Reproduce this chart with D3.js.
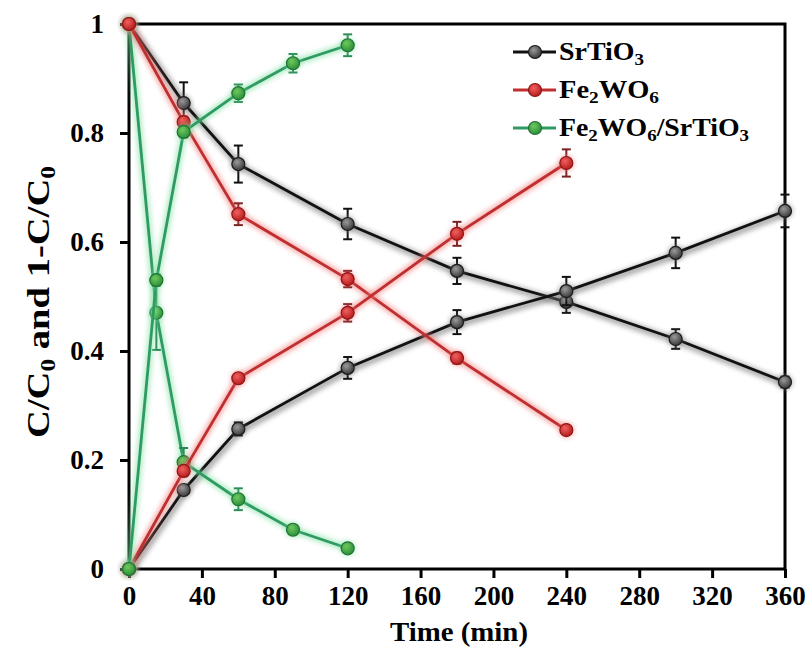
<!DOCTYPE html>
<html>
<head>
<meta charset="utf-8">
<script src="https://cdn.jsdelivr.net/npm/d3@7"></script>
<style>
  body { margin: 0; background: #fff; }
  text { font-family: "Liberation Serif", "Times New Roman", serif; font-weight: bold; }
</style>
</head>
<body>
<svg id="chart" width="812" height="651"></svg>
<script>
"use strict";

// time points for each material (min)
const srTimes = [0, 30, 60, 120, 180, 240, 300, 360];
const fwTimes = [0, 30, 60, 120, 180, 240];
const compTimes = [0, 15, 30, 60, 90, 120];

// C/C0 (decay) and 1-C/C0 (removal), with error bars
const srDecay = [1, 0.855, 0.743, 0.633, 0.547, 0.490, 0.422, 0.343];
const srDecayErr = [0, 0.038, 0.034, 0.028, 0.024, 0.02, 0.018, 0.01];
const srRemoval = [0, 0.145, 0.257, 0.369, 0.453, 0.510, 0.580, 0.657];
const srRemovalErr = [0, 0.006, 0.012, 0.02, 0.022, 0.026, 0.028, 0.03];

const fwDecay = [1, 0.82, 0.651, 0.532, 0.387, 0.255];
const fwDecayErr = [0, 0.01, 0.02, 0.015, 0.01, 0];
const fwRemoval = [0, 0.18, 0.35, 0.47, 0.615, 0.745];
const fwRemovalErr = [0, 0.008, 0.008, 0.016, 0.022, 0.025];

const compDecay = [1, 0.47, 0.196, 0.128, 0.072, 0.038];
const compDecayErr = [0, 0.068, 0.026, 0.02, 0.008, 0];
const compRemoval = [0, 0.53, 0.802, 0.873, 0.928, 0.961];
const compRemovalErr = [0, 0.01, 0.01, 0.016, 0.017, 0.02];

const xTicks = [0, 40, 80, 120, 160, 200, 240, 280, 320, 360];
const yTicks = [0, 0.2, 0.4, 0.6, 0.8, 1];

const svg = d3.select("#chart");
const x = d3.scaleLinear().domain([0, 360]).range([129, 785]);
const y = d3.scaleLinear().domain([0, 1]).range([569, 24]);

// colour sets: line, glow, marker light/dark
const styles = {
  black: { line: "#111", glow: "#777", hi: "#9a9a9a", lo: "#3a3a3a", edge: "#1a1a1a", bar: "#111" },
  red: { line: "#bf2f30", glow: "#f27a7a", hi: "#f06060", lo: "#b81c1c", edge: "#8e1515", bar: "#7a2020" },
  green: { line: "#2f9a62", glow: "#7ee0a0", hi: "#6fc85e", lo: "#2a9038", edge: "#1f7034", bar: "#2a8a55" }
};

const defs = svg.append("defs");
defs.append("filter").attr("id", "glow").attr("x", "-20%").attr("y", "-20%")
  .attr("width", "140%").attr("height", "140%")
  .append("feGaussianBlur").attr("stdDeviation", 2.5);

Object.keys(styles).forEach(function (k) {
  const s = styles[k];
  const g = defs.append("radialGradient").attr("id", "ball-" + k)
    .attr("cx", "40%").attr("cy", "35%").attr("r", "65%");
  g.append("stop").attr("offset", "0%").attr("stop-color", s.hi);
  g.append("stop").attr("offset", "100%").attr("stop-color", s.lo);
});

// frame
svg.append("rect").attr("x", 129).attr("y", 24).attr("width", 656).attr("height", 545)
  .attr("fill", "none").attr("stroke", "#000").attr("stroke-width", 3);

// axes
const xAxis = d3.axisBottom(x).tickValues(xTicks).tickSize(9).tickPadding(8).tickFormat(d3.format("d"));
const yAxis = d3.axisLeft(y).tickValues(yTicks).tickSize(9).tickPadding(16)
  .tickFormat(d => (d === 0 || d === 1) ? String(d) : d3.format(".1f")(d));

const gx = svg.append("g").attr("transform", "translate(0,569)").call(xAxis);
const gy = svg.append("g").attr("transform", "translate(129,0)").call(yAxis);
[gx, gy].forEach(function (g) {
  g.select(".domain").remove();
  g.selectAll(".tick line").attr("stroke", "#000").attr("stroke-width", 3);
  g.selectAll(".tick text").attr("fill", "#000").style("font-size", "27px")
    .style("font-family", "'Liberation Serif', serif").style("font-weight", "bold");
});

function drawCurve(times, vals, errs, key) {
  const s = styles[key];
  const pts = times.map((t, i) => ({ t: t, v: vals[i], e: errs[i] }));
  const line = d3.line().x(d => x(d.t)).y(d => y(d.v));
  const g = svg.append("g");

  g.append("path").datum(pts).attr("d", line).attr("fill", "none")
    .attr("stroke", s.glow).attr("stroke-width", 7).attr("opacity", 0.6)
    .attr("filter", "url(#glow)")
    .attr("transform", key === "black" ? "translate(1.5,2)" : null);
  g.append("path").datum(pts).attr("d", line).attr("fill", "none")
    .attr("stroke", s.line).attr("stroke-width", 2.8);

  const bars = g.selectAll(".err").data(pts.filter(d => d.e > 0)).join("g");
  bars.append("line").attr("x1", d => x(d.t)).attr("x2", d => x(d.t))
    .attr("y1", d => y(d.v - d.e)).attr("y2", d => y(d.v + d.e))
    .attr("stroke", s.bar).attr("stroke-width", 2);
  [-1, 1].forEach(function (sign) {
    bars.append("line").attr("x1", d => x(d.t) - 4.5).attr("x2", d => x(d.t) + 4.5)
      .attr("y1", d => y(d.v + sign * d.e)).attr("y2", d => y(d.v + sign * d.e))
      .attr("stroke", s.bar).attr("stroke-width", 2);
  });

  g.selectAll(".glowdot").data(pts).join("circle")
    .attr("cx", d => x(d.t)).attr("cy", d => y(d.v)).attr("r", 8)
    .attr("fill", s.glow).attr("opacity", 0.5).attr("filter", "url(#glow)");
  g.selectAll(".dot").data(pts).join("circle")
    .attr("cx", d => x(d.t)).attr("cy", d => y(d.v)).attr("r", 6.5)
    .attr("fill", "url(#ball-" + key + ")").attr("stroke", s.edge).attr("stroke-width", 1.2);
}

drawCurve(srTimes, srDecay, srDecayErr, "black");
drawCurve(srTimes, srRemoval, srRemovalErr, "black");
drawCurve(compTimes, compDecay, compDecayErr, "green");
drawCurve(fwTimes, fwDecay, fwDecayErr, "red");
drawCurve(fwTimes, fwRemoval, fwRemovalErr, "red");
drawCurve(compTimes, compRemoval, compRemovalErr, "green");

// write text made of normal / subscript parts, shifting the baseline between them
function richText(t, parts, big, small, shift) {
  let prevSub = false;
  parts.forEach(function (p) {
    const isSub = p[1] === 1;
    let dy = 0;
    if (isSub && !prevSub) dy = shift;
    if (!isSub && prevSub) dy = -shift;
    t.append("tspan").text(p[0]).style("font-size", (isSub ? small : big) + "px").attr("dy", dy);
    prevSub = isSub;
  });
}

// legend
const legendItems = [
  { key: "black", parts: [["SrTiO", 0], ["3", 1]], len: 85 },
  { key: "red", parts: [["Fe", 0], ["2", 1], ["WO", 0], ["6", 1]], len: 100 },
  { key: "green", parts: [["Fe", 0], ["2", 1], ["WO", 0], ["6", 1], ["/SrTiO", 0], ["3", 1]], len: 190 }
];
legendItems.forEach(function (item, i) {
  const s = styles[item.key];
  const ly = 52 + i * 38;
  svg.append("line").attr("x1", 513).attr("x2", 556).attr("y1", ly).attr("y2", ly)
    .attr("stroke", s.line).attr("stroke-width", 2.8);
  svg.append("circle").attr("cx", 535).attr("cy", ly).attr("r", 6.5)
    .attr("fill", "url(#ball-" + item.key + ")").attr("stroke", s.edge).attr("stroke-width", 1.2);
  const t = svg.append("text").attr("x", 559).attr("y", ly + 8).style("font-size", "25px")
    .attr("textLength", item.len).attr("lengthAdjust", "spacingAndGlyphs");
  richText(t, item.parts, 25, 17, 5);
});

// axis titles
svg.append("text").attr("x", 459).attr("y", 641).attr("text-anchor", "middle")
  .style("font-size", "28px").attr("textLength", 138).attr("lengthAdjust", "spacingAndGlyphs")
  .text("Time (min)");

const yt = svg.append("text").attr("transform", "translate(49,302) rotate(-90)")
  .attr("text-anchor", "middle").style("font-size", "32px")
  .attr("textLength", 272).attr("lengthAdjust", "spacingAndGlyphs");
richText(yt, [["C/C", 0], ["0", 1], [" and 1-C/C", 0], ["0", 1]], 32, 21, 6);
</script>
</body>
</html>
